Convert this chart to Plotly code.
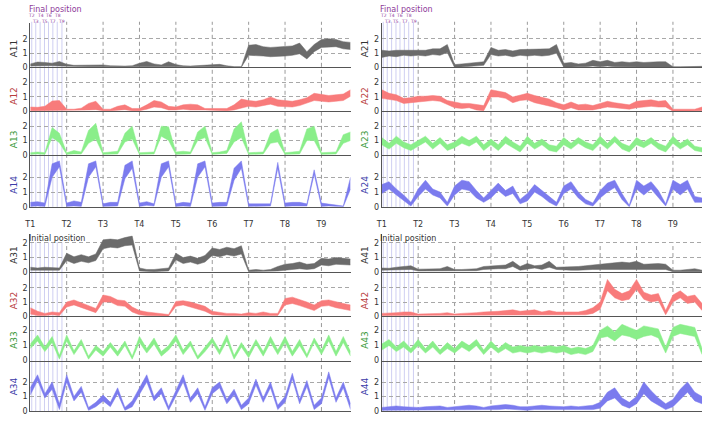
import plotly.graph_objects as go

# ---------------- data ----------------
T_LABELS = ["T1", "T2", "T3", "T4", "T5", "T6", "T7", "T8", "T9"]
T_POS = [0, 1, 2, 3, 4, 5, 6, 7, 8]
SUB_LABELS = ["T2", "T3", "T4", "T5", "T6", "T7", "T8", "T9"]
SUB_POS = [0.04, 0.15, 0.27, 0.39, 0.50, 0.62, 0.74, 0.87]
XS = [i / 5 for i in range(45)]

A11_lo = [0.10,0.12,0.10,0.12,0.10, 0.08,0.05,0.05,0.05,0.05, 0.05,0.05,0.05,0.05,0.05, 0.08,0.10,0.08,0.05,0.10, 0.05,0.05,0.05,0.05,0.05, 0.05,0.08,0.05,0.02,0.02, 0.85,0.85,0.80,0.75,0.75, 0.80,0.85,0.95,0.60,1.10, 1.40,1.40,1.45,1.30,1.25]
A11_hi = [0.25,0.38,0.35,0.30,0.42, 0.22,0.15,0.15,0.18,0.20, 0.18,0.12,0.10,0.10,0.12, 0.30,0.42,0.25,0.18,0.40, 0.20,0.12,0.10,0.12,0.15, 0.15,0.22,0.12,0.06,0.06, 1.55,1.60,1.45,1.40,1.45, 1.45,1.50,1.70,1.10,1.60, 1.95,2.00,1.95,1.80,1.75]
A12_lo = [0.05,0.05,0.08,0.10,0.10, 0.05,0.05,0.05,0.10,0.12, 0.05,0.05,0.08,0.12,0.05, 0.05,0.15,0.30,0.25,0.10, 0.10,0.15,0.10,0.12,0.10, 0.08,0.05,0.05,0.10,0.25, 0.35,0.30,0.40,0.50,0.35, 0.35,0.30,0.40,0.55,0.75, 0.70,0.65,0.70,0.75,1.05]
A12_hi = [0.30,0.28,0.35,0.72,0.75, 0.15,0.15,0.22,0.55,0.70, 0.15,0.15,0.35,0.45,0.20, 0.20,0.45,0.75,0.65,0.35, 0.30,0.45,0.50,0.45,0.20, 0.20,0.15,0.20,0.45,0.85, 0.75,0.70,0.80,1.00,0.80, 0.75,0.70,0.80,0.95,1.25, 1.15,1.10,1.15,1.20,1.50]
A13_lo = [0.02,0.05,0.02,1.20,0.85, 0.02,0.05,0.05,0.80,1.10, 0.02,0.05,0.05,0.90,1.10, 0.02,0.05,0.05,1.30,1.00, 0.02,0.05,0.05,1.00,1.20, 0.02,0.05,0.10,0.90,1.20, 0.02,0.05,0.05,0.80,0.90, 0.02,0.05,0.05,1.00,1.00, 0.02,0.05,0.05,0.80,1.00]
A13_hi = [0.15,0.20,0.15,1.90,1.50, 0.15,0.30,0.20,1.70,2.20, 0.15,0.20,0.25,1.50,2.00, 0.15,0.15,0.20,2.00,1.95, 0.20,0.25,0.20,1.60,2.00, 0.15,0.20,0.30,1.80,2.30, 0.15,0.20,0.20,1.50,1.80, 0.15,0.20,0.25,1.80,2.00, 0.15,0.20,0.20,1.40,1.60]
A14_lo = [0.02,0.05,0.02,2.00,2.70, 0.02,0.05,0.02,2.00,2.70, 0.02,0.02,0.05,1.90,2.60, 0.02,0.10,0.05,2.00,2.70, 0.02,0.05,0.02,2.00,2.70, 0.02,0.05,0.05,1.80,2.60, 0.02,0.02,0.02,0.05,2.60, 0.02,0.05,0.05,0.05,2.20, 0.02,0.05,0.02,0.00,1.20]
A14_hi = [0.30,0.35,0.25,2.90,3.10, 0.25,0.40,0.30,2.90,3.10, 0.20,0.30,0.30,2.80,3.10, 0.25,0.35,0.20,2.90,3.10, 0.20,0.30,0.25,2.90,3.10, 0.25,0.30,0.30,2.60,3.10, 0.20,0.20,0.15,0.20,3.00, 0.25,0.30,0.30,0.20,2.50, 0.25,0.20,0.15,0.05,2.00]

A21_lo = [0.70,0.80,0.75,0.85,0.80, 0.85,0.80,0.90,0.85,1.05, 0.00,0.05,0.05,0.10,0.15, 0.90,0.80,0.85,0.75,0.85, 0.80,0.85,0.80,0.85,1.00, 0.02,0.05,0.05,0.05,0.10, 0.05,0.10,0.05,0.05,0.05, 0.05,0.05,0.05,0.05,0.05, 0.00,0.00,0.00,0.00,0.00]
A21_hi = [1.20,1.15,1.20,1.20,1.25, 1.25,1.20,1.30,1.30,1.60, 0.20,0.25,0.30,0.35,0.40, 1.40,1.20,1.25,1.15,1.25, 1.25,1.30,1.25,1.30,1.60, 0.30,0.35,0.25,0.30,0.50, 0.40,0.50,0.35,0.40,0.35, 0.40,0.35,0.40,0.40,0.40, 0.05,0.05,0.05,0.05,0.08]
A22_lo = [0.90,0.80,0.75,0.55,0.60, 0.70,0.70,0.75,0.70,0.45, 0.25,0.20,0.25,0.10,0.05, 1.00,1.00,0.90,0.60,0.75, 0.80,0.60,0.50,0.40,0.25, 0.10,0.25,0.10,0.10,0.10, 0.20,0.30,0.25,0.20,0.15, 0.25,0.30,0.35,0.30,0.30, 0.00,0.02,0.05,0.02,0.05]
A22_hi = [1.50,1.25,1.15,0.90,0.95, 1.05,1.05,1.10,1.05,0.75, 0.65,0.55,0.55,0.45,0.40, 1.50,1.40,1.30,1.00,1.15, 1.25,1.10,1.00,0.85,0.60, 0.45,0.65,0.45,0.50,0.40, 0.55,0.70,0.60,0.50,0.45, 0.70,0.75,0.80,0.70,0.75, 0.15,0.15,0.20,0.15,0.30]
A23_lo = [0.70,0.40,0.80,0.50,0.30, 0.60,0.90,0.40,0.80,0.30, 0.50,0.80,0.60,0.90,0.30, 0.70,0.30,0.80,0.50,0.20, 0.80,0.40,0.70,0.30,0.20, 0.70,0.40,0.80,0.50,0.30, 0.80,0.40,0.90,0.40,0.20, 0.70,0.50,0.80,0.40,0.20, 0.80,0.40,0.70,0.30,0.20]
A23_hi = [1.20,0.80,1.30,0.90,0.70, 1.00,1.30,0.80,1.20,0.70, 0.90,1.30,1.00,1.30,0.70, 1.10,0.70,1.30,0.90,0.60, 1.30,0.80,1.10,0.70,0.60, 1.20,0.80,1.20,0.90,0.70, 1.30,0.80,1.30,0.80,0.60, 1.20,0.90,1.20,0.80,0.60, 1.30,0.80,1.10,0.60,0.50]
A24_lo = [0.90,1.20,0.80,0.40,0.05, 0.70,1.20,0.80,0.60,0.05, 0.80,1.20,1.10,0.60,0.30, 0.60,1.10,0.70,0.90,0.20, 0.40,1.00,0.70,0.30,0.05, 0.90,1.20,0.60,0.20,0.05, 0.60,1.00,1.30,0.50,0.00, 1.20,0.80,1.20,0.60,0.05, 1.20,0.80,1.20,0.30,0.30]
A24_hi = [1.50,1.70,1.20,0.80,0.30, 1.20,1.80,1.20,1.00,0.30, 1.40,1.80,1.70,1.10,0.60, 1.10,1.60,1.10,1.40,0.50, 0.90,1.50,1.10,0.70,0.30, 1.40,1.70,1.00,0.50,0.25, 1.10,1.60,1.80,0.90,0.10, 1.80,1.40,1.70,1.10,0.20, 1.80,1.50,1.80,0.70,0.60]

A31_lo = [0.15,0.15,0.12,0.15,0.15, 0.80,0.60,0.75,0.65,0.80, 1.60,1.70,1.65,1.80,1.85, 0.10,0.05,0.05,0.08,0.10, 0.85,0.60,0.70,0.55,0.70, 1.15,1.05,1.20,1.10,1.25, 0.05,0.05,0.05,0.05,0.10, 0.15,0.20,0.25,0.20,0.25, 0.50,0.45,0.55,0.50,0.50]
A31_hi = [0.35,0.30,0.35,0.35,0.30, 1.30,1.05,1.20,1.05,1.25, 2.20,2.25,2.20,2.35,2.45, 0.30,0.20,0.20,0.25,0.30, 1.30,1.00,1.10,0.95,1.15, 1.65,1.55,1.70,1.60,1.80, 0.15,0.20,0.15,0.20,0.40, 0.55,0.60,0.70,0.55,0.60, 0.95,0.90,1.00,0.95,0.90]
A32_lo = [0.15,0.05,0.05,0.10,0.05, 0.65,0.80,0.60,0.40,0.25, 1.00,1.00,0.75,0.70,0.30, 0.10,0.05,0.05,0.05,0.02, 0.70,0.80,0.65,0.50,0.35, 0.10,0.05,0.05,0.05,0.05, 0.05,0.05,0.10,0.05,0.05, 0.80,0.90,0.75,0.60,0.40, 0.70,0.75,0.60,0.50,0.40]
A32_hi = [0.60,0.35,0.20,0.30,0.25, 1.00,1.15,0.95,0.75,0.55, 1.50,1.40,1.15,1.10,0.65, 0.40,0.30,0.25,0.20,0.12, 1.05,1.10,1.00,0.85,0.70, 0.35,0.25,0.20,0.20,0.15, 0.25,0.20,0.30,0.20,0.20, 1.25,1.35,1.20,1.00,0.80, 1.10,1.15,1.00,0.90,0.80]
A33_lo = [0.80,1.30,0.60,1.20,0.10, 1.30,0.40,1.10,0.10,0.70, 0.30,0.90,0.30,1.00,0.10, 1.20,0.50,1.10,0.30,0.70, 1.30,0.40,1.00,0.10,0.60, 1.20,0.40,1.30,0.10,0.90, 0.20,1.10,0.30,1.20,0.40, 1.20,0.30,1.00,0.20,1.20, 0.40,1.30,0.30,1.20,0.30]
A33_hi = [1.10,1.70,0.90,1.60,0.35, 1.70,0.65,1.40,0.30,1.00, 0.60,1.20,0.60,1.30,0.30, 1.60,0.80,1.50,0.60,1.00, 1.70,0.70,1.30,0.30,0.90, 1.50,0.70,1.70,0.35,1.20, 0.50,1.40,0.60,1.60,0.70, 1.60,0.60,1.40,0.40,1.50, 0.70,1.70,0.60,1.60,0.60]
A34_lo = [1.10,2.10,0.90,1.50,0.10, 2.00,0.70,1.30,0.05,0.30, 0.70,0.30,1.20,0.05,0.30, 1.20,2.00,0.70,1.20,0.05, 1.00,2.00,0.60,1.20,0.05, 1.20,1.60,0.50,1.10,0.10, 0.50,1.80,0.60,1.60,0.10, 0.60,2.20,0.50,1.70,0.10, 0.50,2.30,0.60,1.60,0.10]
A34_hi = [1.60,2.50,1.20,2.00,0.50, 2.50,1.00,1.70,0.25,0.60, 1.10,0.60,1.60,0.25,0.70, 1.60,2.50,1.00,1.60,0.30, 1.40,2.50,0.90,1.60,0.30, 1.60,2.00,0.80,1.50,0.40, 0.90,2.20,0.90,2.00,0.40, 1.00,2.60,0.80,2.10,0.40, 0.90,2.70,0.90,2.00,0.50]

A41_lo = [0.15,0.15,0.18,0.20,0.20, 0.10,0.10,0.12,0.12,0.15, 0.10,0.10,0.10,0.12,0.20, 0.25,0.25,0.25,0.40,0.15, 0.20,0.30,0.20,0.35,0.20, 0.15,0.15,0.15,0.20,0.20, 0.20,0.20,0.25,0.25,0.20, 0.25,0.20,0.20,0.25,0.20, 0.05,0.05,0.08,0.10,0.05]
A41_hi = [0.30,0.28,0.35,0.42,0.45, 0.22,0.22,0.25,0.25,0.40, 0.20,0.20,0.22,0.25,0.40, 0.45,0.45,0.50,0.75,0.40, 0.60,0.45,0.50,0.75,0.35, 0.35,0.35,0.40,0.45,0.50, 0.60,0.65,0.65,0.70,0.65, 0.75,0.55,0.60,0.60,0.55, 0.15,0.15,0.20,0.25,0.15]
A42_lo = [0.05,0.05,0.05,0.05,0.05, 0.05,0.05,0.05,0.05,0.05, 0.05,0.05,0.05,0.05,0.05, 0.05,0.05,0.10,0.10,0.05, 0.05,0.10,0.05,0.10,0.05, 0.05,0.05,0.05,0.10,0.20, 0.50,1.80,1.30,1.10,1.20, 1.90,1.20,1.00,1.10,0.10, 1.00,1.30,0.90,1.00,0.40]
A42_hi = [0.20,0.20,0.25,0.30,0.30, 0.15,0.15,0.20,0.20,0.25, 0.15,0.20,0.20,0.25,0.30, 0.30,0.35,0.40,0.45,0.35, 0.40,0.45,0.30,0.40,0.30, 0.30,0.25,0.30,0.40,0.60, 1.00,2.60,1.90,1.60,1.80, 2.60,1.70,1.50,1.60,0.40, 1.50,1.80,1.40,1.50,0.90]
A43_lo = [0.70,1.00,0.60,0.90,0.50, 1.00,0.50,0.90,0.40,0.80, 0.50,0.90,0.60,1.00,0.40, 0.90,0.50,0.80,0.50,0.60, 0.50,0.60,0.50,0.60,0.50, 0.60,0.40,0.50,0.40,0.60, 1.50,1.60,1.30,1.70,1.60, 1.40,1.60,1.70,1.50,0.50, 1.60,1.80,1.70,1.60,0.40]
A43_hi = [1.10,1.40,0.90,1.30,0.80, 1.40,0.80,1.30,0.70,1.20, 0.80,1.30,1.00,1.40,0.70, 1.30,0.80,1.20,0.90,1.00, 0.90,1.00,0.90,1.00,0.90, 1.00,0.80,0.90,0.80,1.00, 2.00,2.30,1.90,2.40,2.20, 2.00,2.30,2.20,2.10,0.90, 2.20,2.40,2.30,2.20,0.80]
A44_lo = [0.05,0.05,0.10,0.10,0.05, 0.05,0.05,0.05,0.10,0.05, 0.05,0.05,0.10,0.10,0.05, 0.10,0.10,0.15,0.10,0.05, 0.05,0.10,0.10,0.10,0.05, 0.05,0.10,0.05,0.10,0.10, 0.20,0.70,0.90,0.40,0.20, 0.50,1.20,0.70,0.40,0.10, 0.30,0.80,1.30,0.70,0.50]
A44_hi = [0.25,0.30,0.35,0.30,0.25, 0.25,0.30,0.30,0.35,0.25, 0.30,0.35,0.40,0.35,0.25, 0.35,0.40,0.45,0.40,0.30, 0.30,0.35,0.40,0.35,0.30, 0.30,0.35,0.30,0.35,0.40, 0.60,1.30,1.60,0.90,0.60, 1.00,2.00,1.40,0.90,0.50, 0.80,1.50,2.00,1.30,1.00]

PANELS = [
    [("A11", A11_lo, A11_hi), ("A12", A12_lo, A12_hi), ("A13", A13_lo, A13_hi), ("A14", A14_lo, A14_hi)],
    [("A21", A21_lo, A21_hi), ("A22", A22_lo, A22_hi), ("A23", A23_lo, A23_hi), ("A24", A24_lo, A24_hi)],
    [("A31", A31_lo, A31_hi), ("A32", A32_lo, A32_hi), ("A33", A33_lo, A33_hi), ("A34", A34_lo, A34_hi)],
    [("A41", A41_lo, A41_hi), ("A42", A42_lo, A42_hi), ("A43", A43_lo, A43_hi), ("A44", A44_lo, A44_hi)],
]

# ---------------- styling / layout ----------------
W, H = 708, 421
FONT = "DejaVu Sans"
FILLS = ["#6b6b6b", "#f87b7b", "#8aee8a", "#7b7bee"]
TITLE_COLORS = ["#333333", "#b83c3c", "#3c9a3c", "#3c3ca8"]
COL_X = [(24.5, 347.5), (379.0, 702.0)]
ROW_PX = [[(23.0, 68.3), (68.3, 112.7), (112.7, 156.7), (156.7, 209.3)],
          [(236.7, 275.7), (275.7, 320.0), (320.0, 365.0), (365.0, 416.0)]]
ROW_MAX = [[3.12, 3.04, 3.03, 3.51], [2.6, 3.1, 2.94, 3.47]]
TITLE_Y = [[49, 97, 141, 187], [258, 304, 344, 391]]
TITLE_X = [8, 362]
HALF_SPAN = [(22.0, 209.3), (245.0, 416.0)]
XMAX = 8.8


def fx(p):
    return p / W


def fy(p):
    return 1 - p / H


fig = go.Figure()
layout = dict(width=W, height=H, margin=dict(l=0, r=0, t=0, b=0),
              paper_bgcolor="white", plot_bgcolor="white",
              font=dict(family=FONT, size=8, color="#333333"),
              showlegend=False)
annotations = []
shapes = []

for p, panel in enumerate(PANELS):
    col, half = p % 2, p // 2
    for r, (name, lo, hi) in enumerate(panel):
        k = p * 4 + r + 1
        sx = "" if k == 1 else str(k)
        top, bot = ROW_PX[half][r]
        show_t = (half == 0 and r == 3)
        layout["xaxis" + sx] = dict(
            domain=[fx(COL_X[col][0]), fx(COL_X[col][1])], range=[0, XMAX],
            anchor="y" + sx, showgrid=False, zeroline=False,
            showline=True, linecolor="#555555", linewidth=1,
            tickvals=T_POS, ticktext=T_LABELS, showticklabels=show_t,
            ticks="outside" if show_t else "", ticklen=10, tickcolor="rgba(0,0,0,0)",
            tickfont=dict(size=8, color="#333333"), fixedrange=True)
        layout["yaxis" + sx] = dict(
            domain=[fy(bot), fy(top)], range=[0, ROW_MAX[half][r]],
            anchor="x" + sx, tickvals=[0, 1, 2], showgrid=True,
            gridcolor="#a8a8a8", griddash="4px,3px", gridwidth=1,
            zeroline=False, showline=True, linecolor="#555555", linewidth=1,
            ticks="", tickfont=dict(size=8, color="#333333"), fixedrange=True)
        fig.add_trace(go.Scatter(x=XS, y=lo, mode="lines",
                                 line=dict(width=0.5, color=FILLS[r]),
                                 xaxis="x" + sx, yaxis="y" + sx, hoverinfo="skip"))
        fig.add_trace(go.Scatter(x=XS, y=hi, mode="lines", fill="tonexty",
                                 fillcolor=FILLS[r],
                                 line=dict(width=0.5, color=FILLS[r]),
                                 xaxis="x" + sx, yaxis="y" + sx, hoverinfo="skip"))
        annotations.append(dict(x=fx(TITLE_X[col]), y=fy(TITLE_Y[half][r]),
                                xref="paper", yref="paper", text=name,
                                textangle=-90, showarrow=False,
                                xanchor="center", yanchor="middle",
                                font=dict(size=9, color=TITLE_COLORS[r])))
    # vertical reference lines for this panel
    xr = "x" if p * 4 + 1 == 1 else "x" + str(p * 4 + 1)
    y_top, y_bot = HALF_SPAN[half]
    for sp in SUB_POS:
        shapes.append(dict(type="line", xref=xr, yref="paper", x0=sp, x1=sp,
                           y0=fy(y_bot), y1=fy(y_top), layer="between",
                           line=dict(color="#cfcff2", width=1)))
    for t in T_POS[1:]:
        shapes.append(dict(type="line", xref=xr, yref="paper", x0=t, x1=t,
                           y0=fy(y_bot), y1=fy(y_top), layer="between",
                           line=dict(color="#9a9a9a", width=1, dash="4px,3px")))
    if half == 0:
        annotations.append(dict(x=fx(COL_X[col][0] - 3.5), y=fy(10), xref="paper", yref="paper",
                                text="Final position", showarrow=False,
                                xanchor="left", yanchor="middle",
                                font=dict(size=8, color="#8e3a9a")))
        for i, (lab, sp) in enumerate(zip(SUB_LABELS, SUB_POS)):
            annotations.append(dict(x=sp, y=fy(16 if i % 2 == 0 else 21.5),
                                    xref=xr, yref="paper", text=lab, showarrow=False,
                                    xanchor="center", yanchor="middle",
                                    font=dict(size=4.5, color="#8e3a9a")))
    else:
        annotations.append(dict(x=fx(COL_X[col][0] - 3.5), y=fy(241), xref="paper", yref="paper",
                                text="Initial position", showarrow=False,
                                xanchor="left", yanchor="middle",
                                font=dict(size=8, color="#333333")))

layout["annotations"] = annotations
layout["shapes"] = shapes
fig.update_layout(**layout)

fig.write_html("out.html", config={"displayModeBar": False},
               post_script="document.body.style.margin='0';")
